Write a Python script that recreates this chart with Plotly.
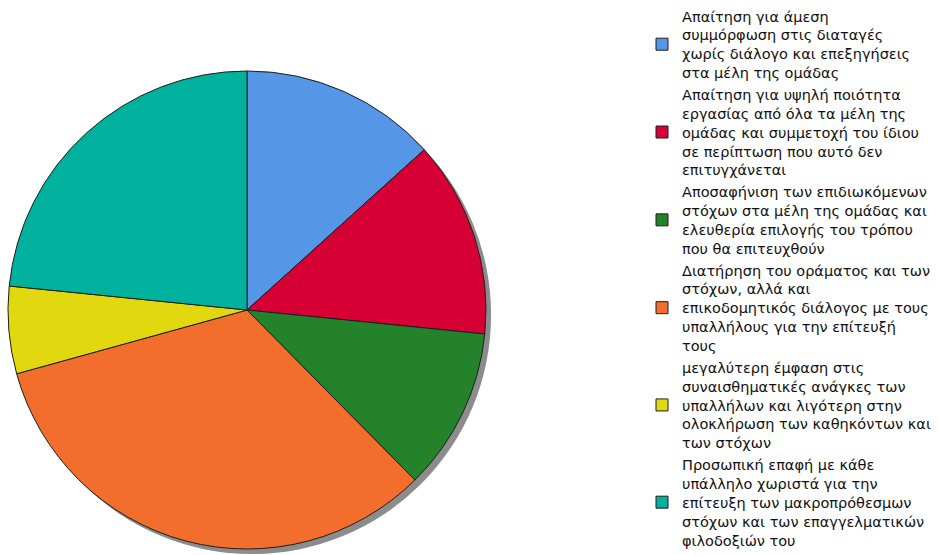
import plotly.graph_objects as go

# Survey answers (share of respondents, %)
labels = [
    "Απαίτηση για άμεση<br>συμμόρφωση στις διαταγές<br>χωρίς διάλογο και επεξηγήσεις<br>στα μέλη της ομάδας",
    "Απαίτηση για υψηλή ποιότητα<br>εργασίας από όλα τα μέλη της<br>ομάδας και συμμετοχή του ίδιου<br>σε περίπτωση που αυτό δεν<br>επιτυγχάνεται",
    "Αποσαφήνιση των επιδιωκόμενων<br>στόχων στα μέλη της ομάδας και<br>ελευθερία επιλογής του τρόπου<br>που θα επιτευχθούν",
    "Διατήρηση του οράματος και των<br>στόχων, αλλά και<br>επικοδομητικός διάλογος με τους<br>υπαλλήλους για την επίτευξή<br>τους",
    "μεγαλύτερη έμφαση στις<br>συναισθηματικές ανάγκες των<br>υπαλλήλων και λιγότερη στην<br>ολοκλήρωση των καθηκόντων και<br>των στόχων",
    "Προσωπική επαφή με κάθε<br>υπάλληλο χωριστά για την<br>επίτευξη των μακροπρόθεσμων<br>στόχων και των επαγγελματικών<br>φιλοδοξιών του",
]
values = [13.3, 13.3, 11.0, 33.1, 5.9, 23.4]
colors = ["#5596E6", "#D70035", "#23822A", "#F36D2D", "#E2D80F", "#00B19D"]

W, H = 940, 555
cx, cy, r = 247, 310, 239   # pie centre and radius in pixels
shadow = 5


def dom(dx=0, dy=0):
    x0 = (cx + dx - r) / W
    x1 = (cx + dx + r) / W
    y0 = (H - (cy + dy) - r) / H
    y1 = (H - (cy + dy) + r) / H
    return dict(x=[x0, x1], y=[y0, y1])


fig = go.Figure()

# drop shadow behind the pie
fig.add_trace(go.Pie(
    values=[1], labels=["shadow"], domain=dom(shadow, shadow),
    marker=dict(colors=["#8c8c8c"], line=dict(width=0)),
    textinfo="none", hoverinfo="skip", showlegend=False, sort=False,
))

fig.add_trace(go.Pie(
    values=values, labels=labels, domain=dom(),
    marker=dict(colors=colors, line=dict(color="#1e1e1e", width=1)),
    textinfo="none", sort=False, direction="clockwise", rotation=0,
))

fig.update_layout(
    width=W, height=H,
    margin=dict(l=0, r=0, t=0, b=0, autoexpand=False),
    paper_bgcolor="white", plot_bgcolor="white",
    font=dict(family="DejaVu Sans", size=14.5, color="#111111"),
    legend=dict(x=642 / W, y=1.0, xanchor="left", yanchor="top",
                maxheight=800,
                bgcolor="rgba(0,0,0,0)", borderwidth=0,
                font=dict(family="DejaVu Sans", size=14.5, color="#111111")),
)

fig.write_html("out.html")
